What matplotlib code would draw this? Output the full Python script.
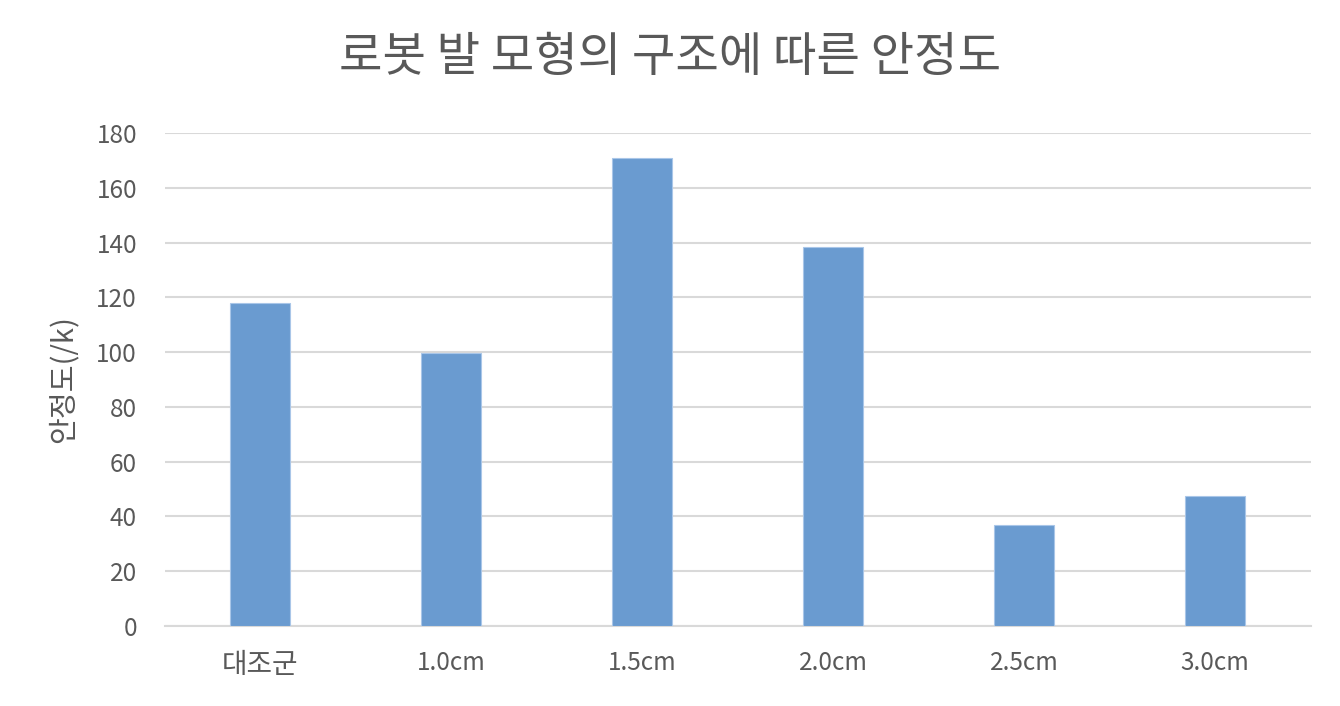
import matplotlib
matplotlib.use("Agg")
import matplotlib.pyplot as plt

categories = ["대조군", "1.0cm", "1.5cm", "2.0cm", "2.5cm", "3.0cm"]
values = [117.8, 99.5, 170.8, 138.5, 36.8, 47.3]
yticks = [0, 20, 40, 60, 80, 100, 120, 140, 160, 180]
title = "로봇 발 모형의 구조에 따른 안정도"
ylabel = "안정도(/k)"

plt.rcParams['font.family'] = ['Noto Sans CJK KR', 'DejaVu Sans']
txt = "#595959"

fig = plt.figure(figsize=(13.4, 7.06), dpi=100)
ax = fig.add_axes([0.123, 0.1133, 0.855, 0.6983])
x = range(len(categories))
ax.bar(x, values, width=0.314, color="#6a9bd0", edgecolor="#a9c6e8", linewidth=0.8, zorder=3)
ax.set_xlim(-0.5, len(categories) - 0.5)
ax.set_ylim(0, 180)
ax.set_yticks(yticks)
ax.set_xticks(list(x))
ax.set_xticklabels(categories)
ax.grid(axis="y", color="#d9d9d9", linewidth=1.5, zorder=0)
for s in ["top", "right", "left"]:
    ax.spines[s].set_visible(False)
ax.spines["bottom"].set_color("#d9d9d9")
ax.spines["bottom"].set_linewidth(1.5)
ax.tick_params(axis="both", length=0, colors=txt, labelsize=17.5)
ax.tick_params(axis="y", pad=20)
ax.tick_params(axis="x", pad=17)
for lbl in ax.get_xticklabels():
    if lbl.get_text() == "대조군":
        lbl.set_fontsize(20)
ax.set_ylabel(ylabel, fontsize=21, color=txt, labelpad=13)
fig.text(0.5, 0.918, title, ha="center", va="center", fontsize=34, color=txt)
fig.savefig("out.png", dpi=100)
